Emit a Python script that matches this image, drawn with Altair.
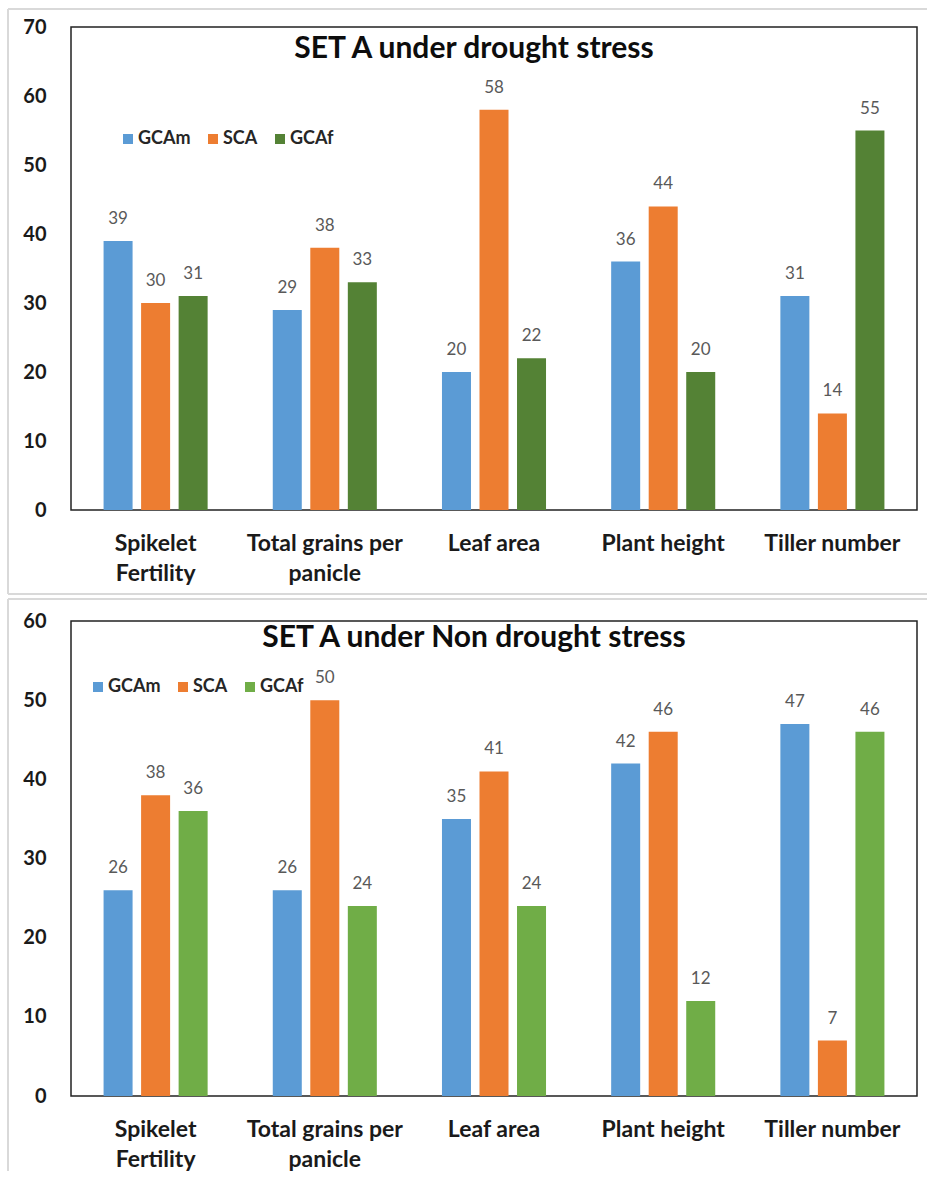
import altair as alt
import pandas as pd

# Traits on the x axis and the three variance components
traits = ["Spikelet Fertility", "Total grains per panicle", "Leaf area", "Plant height", "Tiller number"]
series = ["GCAm", "SCA", "GCAf"]

# SET A under drought stress (%)
drought_gcam = [39, 29, 20, 36, 31]
drought_sca = [30, 38, 58, 44, 14]
drought_gcaf = [31, 33, 22, 20, 55]

# SET A under non drought stress (%)
nondrought_gcam = [26, 26, 35, 42, 47]
nondrought_sca = [38, 50, 41, 46, 7]
nondrought_gcaf = [36, 24, 24, 12, 46]

drought_ticks = [0, 10, 20, 30, 40, 50, 60, 70]
nondrought_ticks = [0, 10, 20, 30, 40, 50, 60]

BLUE, ORANGE = "#5B9BD5", "#ED7D31"
GREEN_DARK, GREEN_LIGHT = "#548235", "#70AD47"
FONT = "Lato"
W = 846

label_expr = (
    "datum.label == 'Spikelet Fertility' ? ['Spikelet', 'Fertility'] : "
    "datum.label == 'Total grains per panicle' ? ['Total grains per', 'panicle'] : datum.label"
)


def long_table(gcam, sca, gcaf):
    rows = []
    for name, vals in zip(series, [gcam, sca, gcaf]):
        for t, v in zip(traits, vals):
            rows.append({"trait": t, "series": name, "value": v})
    return pd.DataFrame(rows)


def panel(title, title_y, df, ticks, height, colors, legend_xy, frame, bottom_edge=True):
    x = alt.X(
        "trait:N", sort=traits, title=None,
        scale=alt.Scale(paddingInner=0.385, paddingOuter=0.1925),
        axis=alt.Axis(labelAngle=0, domain=False, ticks=False, labelExpr=label_expr,
                      labelFont=FONT, labelFontWeight="bold", labelFontSize=23,
                      labelColor="#1a1a1a", labelPadding=22, labelBaseline="top",
                      labelLineHeight=30, minExtent=60, maxExtent=60),
    )
    xo = alt.XOffset("series:N", sort=series, scale=alt.Scale(paddingInner=0.227))
    y = alt.Y(
        "value:Q", title=None,
        scale=alt.Scale(domain=[ticks[0], ticks[-1]], nice=False),
        axis=alt.Axis(values=ticks, domain=False, ticks=False, grid=False,
                      labelFont=FONT, labelFontWeight="bold", labelFontSize=20,
                      labelColor="#1a1a1a", labelPadding=25, minExtent=48, maxExtent=48),
    )
    color = alt.Color(
        "series:N", scale=alt.Scale(domain=series, range=colors),
        legend=alt.Legend(orient="none", legendX=legend_xy[0], legendY=legend_xy[1],
                          direction="horizontal", title=None, symbolType="square",
                          symbolSize=100, symbolStrokeWidth=0, labelFont=FONT,
                          labelFontWeight="bold", labelFontSize=18, labelColor="#262626",
                          labelOffset=1, columnPadding=13, padding=0),
    )
    base = alt.Chart(df)
    bars = base.mark_bar().encode(x=x, xOffset=xo, y=y, color=color)
    labels = base.mark_text(font=FONT, fontSize=17, color="#595959", dy=-22,
                            baseline="middle").encode(
        x=alt.X("trait:N", sort=traits), xOffset=alt.XOffset("series:N", sort=series),
        y="value:Q", text="value:Q")

    one = alt.Chart(pd.DataFrame({"k": [0]}))
    heading = one.mark_text(font=FONT, fontSize=30, fontWeight="bold", color="#0d0d0d",
                            baseline="middle").encode(
        x=alt.value(403), y=alt.value(title_y), text=alt.value(title))

    # light outer border of the chart area (top, left and optional bottom edge)
    fx, ftop, fbot = frame
    edge = dict(stroke="#d9d9d9", strokeWidth=2)
    top_rule = one.mark_rule(**edge).encode(x=alt.value(fx), x2=alt.value(W + 10),
                                            y=alt.value(ftop))
    left_rule = one.mark_rule(**edge).encode(x=alt.value(fx), y=alt.value(ftop),
                                             y2=alt.value(fbot))
    layers = [top_rule, left_rule]
    if bottom_edge:
        layers.append(one.mark_rule(**edge).encode(x=alt.value(fx), x2=alt.value(W + 10),
                                                   y=alt.value(fbot)))
    layers += [bars, labels, heading]
    return alt.layer(*layers).properties(width=W, height=height)


top = panel("SET A under drought stress", 22,
            long_table(drought_gcam, drought_sca, drought_gcaf),
            drought_ticks, 483, [BLUE, ORANGE, GREEN_DARK], (48, 103),
            (-63, -18, 567))
bottom = panel("SET A under Non drought stress", 17,
               long_table(nondrought_gcam, nondrought_sca, nondrought_gcaf),
               nondrought_ticks, 475, [BLUE, ORANGE, GREEN_LIGHT], (18, 57),
               (-63, -22, 550), bottom_edge=False)

chart = (
    alt.vconcat(top, bottom, spacing=1)
    .resolve_scale(x="independent", y="independent", xOffset="independent", color="independent")
    .resolve_legend(color="independent")
    .properties(padding={"left": 6, "top": 7, "right": 0, "bottom": 0}, background="white")
    .configure_view(stroke="#222222", strokeWidth=1.5)
)

chart.save("out.html", embed_options={"renderer": "svg", "actions": False})
